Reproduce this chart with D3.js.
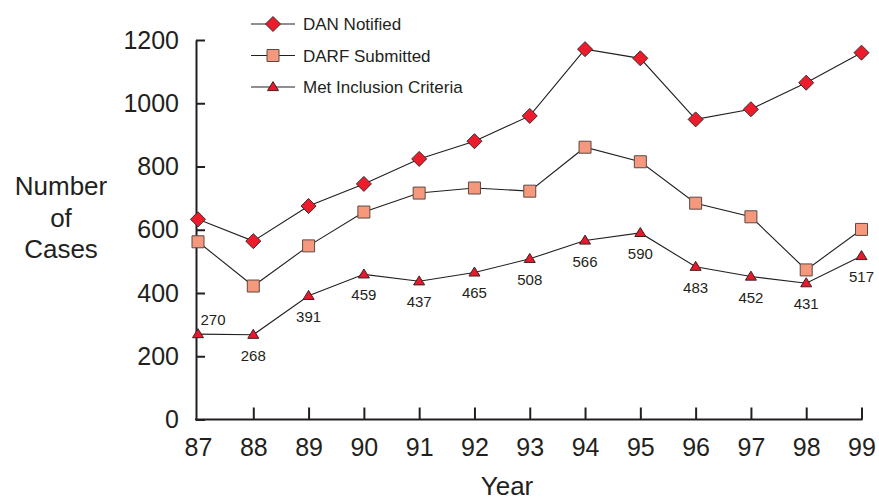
<!DOCTYPE html>
<html><head><meta charset="utf-8">
<script src="https://cdn.jsdelivr.net/npm/d3@7"></script>
<style>body{margin:0;background:#fff}svg{display:block}text{font-family:"Liberation Sans",Arial,sans-serif;fill:#231f20}</style>
</head><body><svg id="c" width="879" height="501"></svg>
<script>
const years = [87,88,89,90,91,92,93,94,95,96,97,98,99];
const danNotified = [633,564,675,745,824,880,960,1171,1142,949,981,1065,1160];
const darfSubmitted = [562,422,549,656,716,732,722,861,815,684,641,473,601];
const metCriteria = [270,268,391,459,437,465,508,566,590,483,452,431,517];
const yTicks = [0,200,400,600,800,1000,1200];
const legendLabels = ["DAN Notified","DARF Submitted","Met Inclusion Criteria"];

const svg = d3.select("#c");
const ink = "#231f20";
const x = d3.scaleLinear().domain([87,99]).range([198,861.5]);
const y = d3.scaleLinear().domain([0,1200]).range([419.5,40]);
const axisX = 196;

// Y axis
const gy = svg.append("g").attr("transform",`translate(${axisX},0)`)
  .call(d3.axisLeft(y).tickValues(yTicks).tickSize(-9).tickSizeOuter(0).tickPadding(17).tickFormat(d3.format("d")));
gy.select(".domain").attr("stroke",ink).attr("stroke-width",2);
gy.selectAll(".tick line").attr("stroke",ink).attr("stroke-width",2);
gy.selectAll(".tick text").attr("font-size",25).attr("font-family","Liberation Sans, Arial").attr("fill",ink);

// X axis
const gx = svg.append("g").attr("transform",`translate(0,${y(0)})`)
  .call(d3.axisBottom(x).tickValues(years).tickSize(-12).tickSizeOuter(0).tickPadding(19).tickFormat(d3.format("d")));
gx.select(".domain").remove();
gx.append("line").attr("x1",axisX-1).attr("x2",x(99)+1).attr("stroke",ink).attr("stroke-width",2);
gx.selectAll(".tick line").attr("stroke",ink).attr("stroke-width",2).filter(d=>d===87).remove();
gx.selectAll(".tick text").attr("font-size",25).attr("font-family","Liberation Sans, Arial").attr("fill",ink);

// Axis titles
svg.append("text").attr("x",507).attr("y",495).attr("text-anchor","middle").attr("font-size",26).text("Year");
const yt = svg.append("text").attr("text-anchor","middle").attr("font-size",26);
[["Number",195],["of",226.5],["Cases",258]].forEach(([t,b])=>yt.append("tspan").attr("x",61).attr("y",b).text(t));

// markers
const diamond = s => `M0,${-s}L${s},0L0,${s}L${-s},0Z`;
const square = s => `M${-s},${-s}H${s}V${s}H${-s}Z`;
const tri = (w,h) => `M0,${-h*0.6}L${w/2},${h*0.4}L${-w/2},${h*0.4}Z`;
const series = [
  {vals:danNotified, path:diamond(7.5), fill:"#ec1c2c", stroke:"#3a2a2a"},
  {vals:darfSubmitted, path:square(6), fill:"#f5987c", stroke:"#5b4a46"},
  {vals:metCriteria, path:tri(11,9), fill:"#e8192c", stroke:"#3a2222"}
];
const line = d3.line().x((d,i)=>x(years[i])).y(d=>y(d));
series.forEach(s=>{
  svg.append("path").attr("d",line(s.vals)).attr("fill","none").attr("stroke",ink).attr("stroke-width",1.1);
});
series.forEach(s=>{
  svg.append("g").selectAll("path").data(s.vals).join("path")
    .attr("transform",(d,i)=>`translate(${x(years[i])},${y(d)})`)
    .attr("d",s.path).attr("fill",s.fill).attr("stroke",s.stroke).attr("stroke-width",1);
});

// data labels for Met Inclusion Criteria
svg.append("g").selectAll("text").data(metCriteria).join("text")
  .attr("x",(d,i)=> i===0 ? x(years[i])+15 : x(years[i]))
  .attr("y",(d,i)=> i===0 ? y(d)-9 : y(d)+26)
  .attr("text-anchor","middle").attr("font-size",15).text(d=>d);

// Legend
const lg = svg.append("g");
legendLabels.forEach((t,i)=>{
  const cy = 24 + i*31.5;
  lg.append("line").attr("x1",251).attr("x2",295).attr("y1",cy).attr("y2",cy).attr("stroke",ink).attr("stroke-width",1.1);
  lg.append("path").attr("transform",`translate(273,${cy})`).attr("d",series[i].path)
    .attr("fill",series[i].fill).attr("stroke",series[i].stroke).attr("stroke-width",1);
  lg.append("text").attr("x",303).attr("y",cy+6).attr("font-size",17).text(t);
});
</script></body></html>
